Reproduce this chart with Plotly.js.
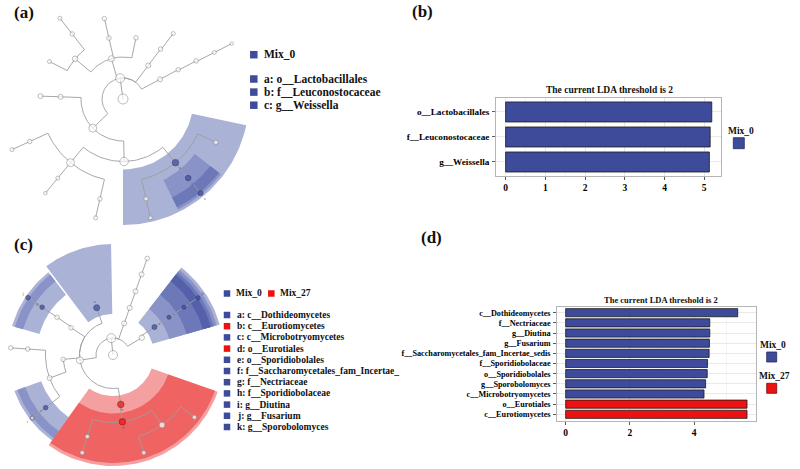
<!DOCTYPE html>
<html><head><meta charset="utf-8">
<script src="https://cdn.plot.ly/plotly-3.0.1.min.js"></script>
<style>html,body{margin:0;padding:0;background:#fff}</style>
</head><body><div id="chart" style="width:800px;height:469px"></div>
<script>
// ---------------- data: panel (b) ----------------
const bTaxa = ['o__Lactobacillales', 'f__Leuconostocaceae', 'g__Weissella'];
const bLDA = [5.19, 5.15, 5.13];
const bGroup = ['Mix_0', 'Mix_0', 'Mix_0'];
const bTicks = [0, 1, 2, 3, 4, 5];
// ---------------- data: panel (d) ----------------
const dTaxa = ['c__Dothideomycetes', 'f__Nectriaceae', 'g__Diutina', 'g__Fusarium',
  'f__Saccharomycetales_fam_Incertae_sedis', 'f__Sporidiobolaceae', 'o__Sporidiobolales',
  'g__Sporobolomyces', 'c__Microbotryomycetes', 'o__Eurotiales', 'c__Eurotiomycetes'];
const dLDA = [5.36, 4.49, 4.49, 4.48, 4.47, 4.42, 4.41, 4.36, 4.31, 5.65, 5.65];
const dGroup = ['Mix_0', 'Mix_0', 'Mix_0', 'Mix_0', 'Mix_0', 'Mix_0', 'Mix_0', 'Mix_0', 'Mix_0', 'Mix_27', 'Mix_27'];
const dTicks = [0, 2, 4];
// ---------------- data: cladogram (a) ----------------
const aLegendGroups = ['Mix_0'];
const aLegendItems = ['a: o__Lactobacillales', 'b: f__Leuconostocaceae', 'c: g__Weissella'];
const aLegendItemGroup = ['Mix_0', 'Mix_0', 'Mix_0'];
const aParent = [-1, 0, 1, 2, 3, 4, 5, 1, 7, 8, 1, 10, 10, 12, 10, 14, 15, 14, 1, 18, 19, 18, 21, 22, 23, 22, 25, 22, 27, 21, 29, 29, 31, 29, 33];
const aLevel  = [0, 1, 2, 3, 4, 5, 6, 2, 3, 4, 2, 3, 3, 4, 3, 4, 5, 4, 2, 3, 4, 3, 4, 5, 6, 5, 6, 5, 6, 4, 5, 5, 6, 5, 6];
const aAngle  = [0, 98, 28, 28, 27.5, 27, 27, 53, 53, 52.5, 106, 78, 103, 103, 140, 128, 128, 153, 224, 178, 178, 271, 230.5, 204.5, 204.5, 230.5, 230.5, 257, 257, 309.5, 335, 309.5, 309.5, 283, 283];
const aAbund  = [10, 9, 5, 4.5, 4.5, 4, 3.5, 5, 4.5, 4, 6, 4.5, 4.5, 4.5, 5.5, 4.5, 4, 4, 8, 5, 5, 8.5, 8, 4.5, 4, 4, 3.5, 4.5, 4, 6.5, 4.5, 5.5, 5, 4.5, 4];
const aMarker = ['', '', '', '', '', '', '', '', '', '', '', '', '', '', '', '', '', '', '', '', '', '', '', '', '', '', '', '', '', 'a', '', 'b', 'c', '', ''];
const aMarkerGroup = ['', '', '', '', '', '', '', '', '', '', '', '', '', '', '', '', '', '', '', '', '', '', '', '', '', '', '', '', '', 'Mix_0', '', 'Mix_0', 'Mix_0', '', ''];
// ---------------- data: cladogram (c) ----------------
const cLegendGroups = ['Mix_0', 'Mix_27'];
const cLegendItems = ['a: c__Dothideomycetes', 'b: c__Eurotiomycetes', 'c: c__Microbotryomycetes',
  'd: o__Eurotiales', 'e: o__Sporidiobolales', 'f: f__Saccharomycetales_fam_Incertae_',
  'g: f__Nectriaceae', 'h: f__Sporidiobolaceae', 'i: g__Diutina', 'j: g__Fusarium', 'k: g__Sporobolomyces'];
const cLegendItemGroup = ['Mix_0', 'Mix_27', 'Mix_0', 'Mix_27', 'Mix_0', 'Mix_0', 'Mix_0', 'Mix_0', 'Mix_0', 'Mix_0', 'Mix_0'];
const cParent = [-1, 0, 1, 2, 3, 4, 5, 1, 7, 8, 9, 10, 1, 12, 12, 14, 15, 16, 12, 18, 19, 20, 19, 22, 22, 12, 25, 26, 27, 27, 26, 30];
const cLevel  = [0, 1, 2, 3, 4, 5, 6, 2, 3, 4, 5, 6, 2, 3, 3, 4, 5, 6, 3, 4, 5, 6, 5, 6, 6, 3, 4, 5, 6, 6, 5, 6];
const cAngle  = [0, 96, 31, 34, 34, 34, 34, 70.5, 70.5, 70.5, 70.5, 70.5, 189, 109, 147, 146, 146, 146, 185, 200, 176, 176, 218, 218, 218, 279, 278, 305, 322.6, 287.5, 252.5, 252.5];
const cAbund  = [9, 9, 5.5, 5, 4, 4, 4, 5, 5, 5, 5, 4.5, 7, 6, 4.5, 4.5, 4.5, 4.5, 4.5, 5, 4.5, 4.5, 4.5, 4, 4, 6.5, 6.5, 6, 4.5, 4.5, 4.5, 4.5];
const cMarker = ['', '', '', 'c', 'e', 'h', 'k', '', '', '', '', '', '', 'a', '', '', 'g', 'j', '', '', '', '', 'f', 'i', '', 'b', 'd', '', '', '', '', ''];
const cMarkerGroup = ['', '', '', 'Mix_0', 'Mix_0', 'Mix_0', 'Mix_0', '', '', '', '', '', '', 'Mix_0', '', '', 'Mix_0', 'Mix_0', '', '', '', '', 'Mix_0', 'Mix_0', '', 'Mix_27', 'Mix_27', '', '', '', '', ''];

// ---------------- styles ----------------
const SERIF = 'Liberation Serif, Times New Roman, serif';
const groupColor = {Mix_0: '#3e4b9b', Mix_27: '#ee1111'};
const groupLine = {Mix_0: '#222a66', Mix_27: '#7a0a0a'};
const wedgeShades = {Mix_0: ['#aab2d6', '#8a93c8', '#6d78b9', '#5461aa'], Mix_27: ['#f5a0a0', '#f06363', '#ea3a3a', '#e02020']};
const cladeA = {cx: 123, cy: 99, radii: [0, 21, 42, 62.5, 82.5, 102.5, 122], pad: 13, inner: 12, outerBase: 121, outerStep: 2.5, lab: 7};
const cladeC = {cx: 113, cy: 355, radii: [0, 17, 33.5, 50, 67.5, 85.5, 102.5], pad: 18, inner: 9, outerBase: 102, outerStep: 3, lab: 6};

function pxy(cfg, r, deg) { const t = deg * Math.PI / 180; return [cfg.cx + r * Math.cos(t), cfg.cy - r * Math.sin(t)]; }

function leafAngles(parent, angle, idx) {
  const kids = []; parent.forEach((p, i) => { if (p === idx) kids.push(i); });
  if (!kids.length) return [angle[idx]];
  return kids.flatMap(k => leafAngles(parent, angle, k));
}

function cladeTraces(cfg, parent, level, angle, abund, marker, markerGroup) {
  const traces = [];
  const depthOf = i => { let d = 0, p = parent[i]; while (p >= 0) { if (marker[p]) d++; p = parent[p]; } return d; };
  const idx = marker.map((m, i) => m ? i : -1).filter(i => i >= 0).sort((u, v) => depthOf(u) - depthOf(v));
  idx.forEach(i => {
    const leaves = leafAngles(parent, angle, i);
    const a0 = Math.min(...leaves) - cfg.pad, a1 = Math.max(...leaves) + cfg.pad;
    const r0 = cfg.radii[level[i]] - cfg.inner, r1 = cfg.outerBase + (6 - level[i]) * cfg.outerStep;
    const xs = [], ys = [];
    const n = Math.ceil((a1 - a0) / 1.5);
    for (let k = 0; k <= n; k++) { const [x, y] = pxy(cfg, r1, a0 + (a1 - a0) * k / n); xs.push(x); ys.push(y); }
    for (let k = n; k >= 0; k--) { const [x, y] = pxy(cfg, r0, a0 + (a1 - a0) * k / n); xs.push(x); ys.push(y); }
    xs.push(xs[0]); ys.push(ys[0]);
    const shade = wedgeShades[markerGroup[i]][Math.min(depthOf(i), 3)];
    traces.push({type: 'scatter', mode: 'lines', x: xs, y: ys, xaxis: 'x3', yaxis: 'y3', fill: 'toself',
      fillcolor: shade, line: {width: 0, color: shade}, hoverinfo: 'skip', showlegend: false});
  });
  const ex = [], ey = [];
  parent.forEach((p, i) => {
    if (p < 0) return;
    const rp = cfg.radii[level[p]], rc = cfg.radii[level[i]];
    const a0 = angle[p], a1 = angle[i];
    const n = Math.max(1, Math.ceil(Math.abs(a1 - a0) / 2));
    for (let k = 0; k <= n; k++) { const [x, y] = pxy(cfg, rp, a0 + (a1 - a0) * k / n); ex.push(x); ey.push(y); }
    const [x2, y2] = pxy(cfg, rc, a1); ex.push(x2); ey.push(y2);
    ex.push(null); ey.push(null);
  });
  traces.push({type: 'scatter', mode: 'lines', x: ex, y: ey, xaxis: 'x3', yaxis: 'y3',
    line: {color: '#9d9d9d', width: 0.9}, hoverinfo: 'skip', showlegend: false});
  const nx = [], ny = [];
  level.forEach((l, i) => { const [x, y] = pxy(cfg, cfg.radii[l], angle[i]); nx.push(x); ny.push(y); });
  traces.push({type: 'scatter', mode: 'markers', x: nx, y: ny, xaxis: 'x3', yaxis: 'y3', hoverinfo: 'skip', showlegend: false,
    marker: {size: abund, color: markerGroup.map(g => g ? groupColor[g] : '#ffffff'),
      line: {width: 0.8, color: markerGroup.map(g => g ? groupLine[g] : '#8a8a8a')}}});
  const lx = [], ly = [], lt = [];
  idx.forEach(i => { const [x, y] = pxy(cfg, cfg.radii[level[i]] + cfg.lab, angle[i]); lx.push(x); ly.push(y); lt.push(marker[i]); });
  traces.push({type: 'scatter', mode: 'text', x: lx, y: ly, text: lt, xaxis: 'x3', yaxis: 'y3', hoverinfo: 'skip', showlegend: false,
    textfont: {size: 4.5, color: '#666', family: SERIF}});
  return traces;
}

const traces = [];
traces.push(...cladeTraces(cladeA, aParent, aLevel, aAngle, aAbund, aMarker, aMarkerGroup));
traces.push(...cladeTraces(cladeC, cParent, cLevel, cAngle, cAbund, cMarker, cMarkerGroup));

traces.push({type: 'bar', orientation: 'h', x: bLDA, y: bTaxa, xaxis: 'x', yaxis: 'y', width: 0.8,
  marker: {color: bGroup.map(g => groupColor[g]), line: {color: '#1a1a1a', width: 0.8}}, hoverinfo: 'x+y', showlegend: false});
traces.push({type: 'bar', orientation: 'h', x: dLDA, y: dTaxa, xaxis: 'x2', yaxis: 'y2', width: 0.8,
  marker: {color: dGroup.map(g => groupColor[g]), line: {color: '#1a1a1a', width: 0.8}}, hoverinfo: 'x+y', showlegend: false});

const bold = s => '<b>' + s + '</b>';
const tickFont = (s) => ({family: SERIF, size: s, color: '#000'});
const barX = (dom, range, tv, minorDt) => ({domain: dom, range: range, tickvals: tv, ticktext: tv.map(v => bold(v)), showline: true, mirror: true,
  linecolor: '#b5b5b5', linewidth: 1, ticks: 'outside', ticklen: 3, tickcolor: '#333', tickwidth: 0.8, showgrid: true, gridcolor: '#e3e3e3',
  gridwidth: 0.8, zeroline: false, tickfont: tickFont(9.5), minor: {dtick: minorDt, tick0: 0, showgrid: true, gridcolor: '#efefef', gridwidth: 0.6, ticks: ''}, fixedrange: true});
const barY = (dom, range, fs, cats) => ({domain: dom, range: range, type: 'category', tickvals: cats, ticktext: cats.map(bold),
  showline: true, mirror: true, linecolor: '#b5b5b5', linewidth: 1,
  ticks: 'outside', ticklen: 2.5, tickcolor: '#333', tickwidth: 0.8, showgrid: true, gridcolor: '#e3e3e3', gridwidth: 0.8,
  tickfont: tickFont(fs), ticklabelstandoff: 1, fixedrange: true});

const ann = [];
const A = (x, y, text, size, anchor) => ann.push({xref: 'x3', yref: 'y3', x: x, y: y, text: bold(text), showarrow: false,
  xanchor: anchor || 'center', yanchor: 'middle', font: {family: SERIF, size: size, color: '#111'}});
A(24, 12, '(a)', 17); A(422, 11, '(b)', 17); A(23, 244, '(c)', 17); A(431, 237, '(d)', 17);
A(609, 90, 'The current LDA threshold is 2', 9.5);
A(661, 300, 'The current LDA threshold is 2', 8.5);
A(741, 131, 'Mix_0', 9.5);
A(772.5, 345, 'Mix_0', 9.5);
A(774.5, 375.5, 'Mix_27', 9.5);
const shapes = [];
const sq = (x, y, s, g, outline) => shapes.push({type: 'rect', xref: 'x3', yref: 'y3', x0: x - s / 2, x1: x + s / 2, y0: y - s / 2, y1: y + s / 2,
  fillcolor: groupColor[g], line: outline ? {color: groupLine[g], width: 0.8} : {width: 0}});
sq(738.8, 143.2, 11, 'Mix_0', true);
sq(771.7, 357, 10, 'Mix_0', true);
sq(771.7, 388.3, 10, 'Mix_27', true);
aLegendGroups.forEach((g, i) => { sq(253.8, 54.7, 7.5, g); A(262, 54, g, 11.5, 'left'); });
aLegendItems.forEach((t, i) => { sq(253.8, 79 + i * 13.1, 7.5, aLegendItemGroup[i]); A(262, 79 + i * 13.1, t, 11.5, 'left'); });
cLegendGroups.forEach((g, i) => { const x0 = [227, 271.3][i]; sq(x0, 293.5, 6.5, g); A(x0 + 7, 293, g, 9.5, 'left'); });
cLegendItems.forEach((t, i) => { sq(227, 315 + i * 11.2, 6.5, cLegendItemGroup[i]); A(234.5, 315 + i * 11.2, t, 9.5, 'left'); });

const layout = {
  width: 800, height: 469, margin: {l: 0, r: 0, t: 0, b: 0}, paper_bgcolor: '#fff', plot_bgcolor: 'rgba(0,0,0,0)',
  showlegend: false, bargap: 0.2,
  xaxis: Object.assign(barX([495.7 / 800, 721.3 / 800], [-0.25, 5.43], bTicks, 0.5), {anchor: 'y'}),
  yaxis: Object.assign(barY([1 - 176 / 469, 1 - 97.7 / 469], [2.56, -0.57], 9.2, bTaxa), {anchor: 'x'}),
  xaxis2: Object.assign(barX([556.7 / 800, 756 / 800], [-0.28, 5.93], dTicks, 1), {anchor: 'y2'}),
  yaxis2: Object.assign(barY([1 - 420.7 / 469, 1 - 306.7 / 469], [10.63, -0.59], 8.2, dTaxa), {anchor: 'x2'}),
  xaxis3: {domain: [0, 1], range: [0, 800], visible: false, fixedrange: true, anchor: 'y3'},
  yaxis3: {domain: [0, 1], range: [469, 0], visible: false, fixedrange: true, anchor: 'x3'},
  annotations: ann, shapes: shapes
};
Plotly.newPlot('chart', traces, layout, {displayModeBar: false, staticPlot: true});
</script></body></html>
